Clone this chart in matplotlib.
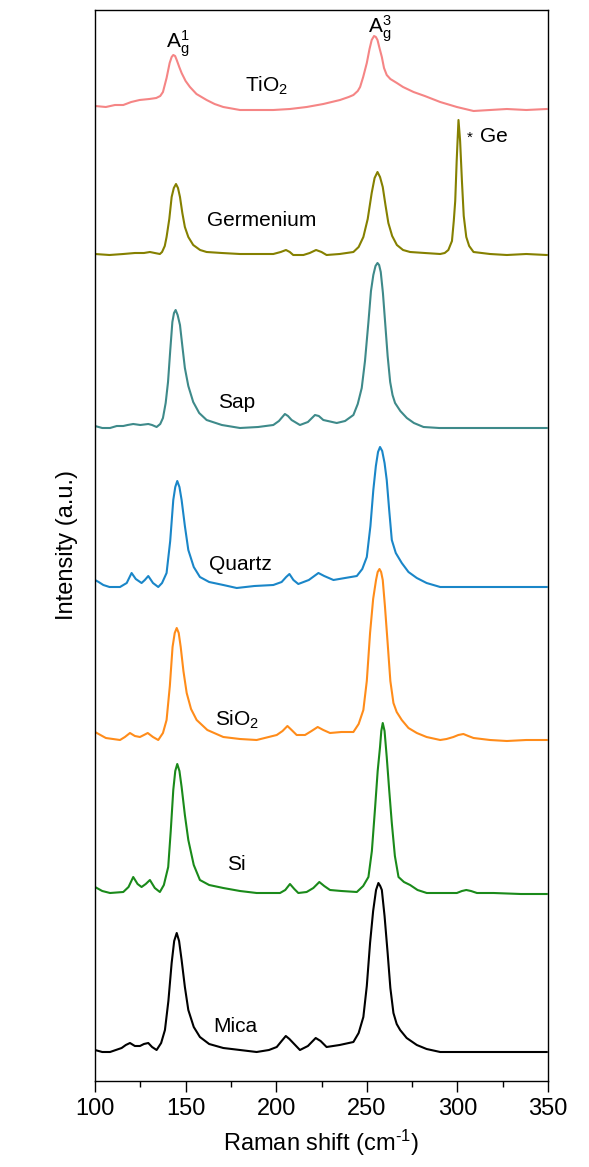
import matplotlib
matplotlib.use("Agg")
import matplotlib.pyplot as plt
from matplotlib.ticker import MultipleLocator

plt.rcParams['font.family'] = ['Liberation Sans', 'DejaVu Sans']
plt.rcParams['mathtext.fontset'] = 'custom'
plt.rcParams['mathtext.rm'] = 'Liberation Sans'
plt.rcParams['mathtext.it'] = 'Liberation Sans'
plt.rcParams['mathtext.bf'] = 'Liberation Sans:bold'

# ---- data (Raman shift in cm^-1, stacked intensity in a.u.) ----
tio2_x = [100, 106, 111, 115.6, 120, 124.6, 130, 133.8, 136, 137.5, 139.5, 141.2, 142.3, 143.2, 144.2,
          145.1, 146.5, 147.8, 150, 152.4, 156, 161.6, 166, 170.8, 180, 189.2, 198.4, 207.6, 216.8, 226,
          235.2, 240, 242.6, 245, 246.3, 248, 250, 251.5, 252.7, 254, 255, 255.9, 257, 258.3, 259.5,
          261, 263, 266.6, 270, 275.8, 282, 290.5, 299.7, 308.9, 318, 327.3, 338, 349.3]
tio2_y = [975, 974, 976, 976, 979, 981, 982, 983, 985, 989, 1003, 1018, 1024, 1026, 1025,
          1021, 1014, 1008, 1000, 994, 987, 981, 977, 974, 971, 971, 971, 972, 974, 977,
          981, 984, 986, 990, 994, 1004, 1018, 1032, 1041, 1045, 1044, 1041, 1033, 1024, 1013,
          1006, 1002, 998, 994, 989, 985, 979, 974, 970, 971, 972, 971, 972]

ge_x = [100, 108, 115.6, 122, 127, 130.3, 133, 135.8, 137, 138.5, 139.5, 141, 142.3, 143.5, 144.7,
        145.8, 146.9, 148.2, 149.6, 151.5, 154.2, 158, 161.6, 170, 180, 190, 198.4, 202.5, 205.4, 207.5,
        209.4, 215, 218.5, 222, 225, 227.8, 235, 242.6, 245.5, 248.1, 250.5, 252.7, 254.3, 255.9, 257.3,
        258.8, 260.3, 261.9, 264, 266.6, 270, 273.9, 282, 290.5, 293, 295, 297, 298, 298.8, 299.6,
        300.6, 301.5, 302.5, 303.5, 304.9, 306.5, 308.9, 318, 327.3, 338, 349.3]
ge_y = [827, 826, 827, 828, 828, 829, 828, 827, 829, 835, 844, 862, 884, 893, 897,
        893, 884, 868, 854, 844, 836, 831, 829, 828, 827, 827, 827, 829, 831, 829,
        826, 826, 828, 831, 829, 826, 827, 829, 834, 844, 862, 888, 903, 909, 904,
        894, 876, 858, 845, 836, 831, 829, 828, 827, 828, 831, 840, 860, 880, 920,
        961, 940, 900, 865, 844, 835, 829, 827, 826, 827, 826]

sap_x = [100, 104, 108.3, 112, 115.6, 118, 121.1, 125, 129.4, 131.5, 134, 136, 137.5, 139, 140.3,
         141.5, 142.7, 143.6, 144.5, 145.6, 146.9, 148.2, 149.6, 151.5, 154.2, 157.5, 161.6, 170, 180, 190,
         198.4, 201.5, 204.8, 206.5, 208.5, 213.1, 217.5, 221.4, 223.5, 226, 233.4, 238, 242.6, 245, 247.2,
         249, 250.9, 252.3, 253.6, 254.8, 255.9, 256.8, 257.7, 258.9, 260.1, 261.5, 262.9, 264.2, 265.6, 268.5,
         272.1, 276, 281.3, 290, 299.7, 315, 330, 349.3]
sap_y = [655, 653, 653, 655, 655, 656, 657, 656, 657, 656, 654, 657, 663, 678, 699,
         730, 759, 768, 771, 766, 756, 735, 713, 695, 679, 668, 661, 656, 653, 654,
         656, 660, 667, 665, 661, 656, 659, 666, 665, 661, 658, 660, 666, 677, 693,
         720, 759, 790, 806, 815, 818, 816, 809, 788, 759, 725, 699, 686, 678, 670,
         663, 658, 654, 653, 653, 653, 653, 653]

quartz_x = [100, 102, 104.6, 108, 113.8, 117.5, 120.2, 122.5, 125.7, 127.5, 129.4, 132, 134.9, 137, 139.5,
            141.5, 143.2, 144.3, 145.4, 146.6, 147.8, 149.6, 151.5, 154.5, 157.9, 163, 170.8, 178.2, 188, 198.4,
            203, 205.5, 207.3, 209.5, 212.2, 218, 223.3, 226.5, 231.6, 238, 244.5, 247.5, 250, 252, 253.6,
            255, 256.2, 257.3, 258.5, 259.8, 261, 262.4, 263.8, 266, 269.3, 273, 277.6, 283, 290.5, 310,
            330, 349.3]
quartz_y = [501, 499, 496, 494, 494, 498, 508, 502, 498, 501, 505, 498, 494, 498, 508,
            540, 581, 594, 600, 594, 581, 555, 531, 514, 504, 499, 496, 493, 495, 496,
            499, 504, 507, 501, 497, 501, 508, 505, 501, 503, 505, 512, 524, 555, 591,
            615, 629, 634, 630, 618, 601, 570, 541, 528, 518, 509, 503, 498, 494, 494,
            494, 494]

sio2_x = [100, 106, 113.8, 116.5, 119.3, 122, 124.8, 127, 129.1, 132, 134.9, 137.5, 139.5, 141.3, 142.8,
          144, 145.1, 146.2, 147.3, 148.8, 150.6, 153, 156.1, 162, 170.8, 180, 189.2, 200.3, 203.5, 206.2,
          208.5, 211.3, 215.9, 219.5, 222.9, 226, 229.7, 236, 242.6, 245.5, 248.1, 250, 251.8, 253.5, 255.1,
          256, 257, 257.9, 258.8, 260, 261.5, 263, 264.7, 266.5, 269.3, 273, 277.6, 283, 290.5, 294,
          297.8, 300.5, 303.3, 306, 308.9, 318, 327.3, 338, 349.3]
sio2_y = [349, 343, 341, 344, 348, 345, 344, 346, 348, 344, 341, 348, 361, 395, 434,
          448, 453, 448, 434, 410, 388, 372, 361, 351, 344, 342, 341, 346, 350, 355,
          351, 346, 346, 350, 354, 351, 348, 349, 349, 357, 371, 400, 448, 482, 501,
          509, 512, 509, 501, 475, 438, 400, 378, 369, 361, 353, 348, 344, 341, 342,
          344, 346, 347, 345, 343, 341, 340, 341, 341]

si_x = [100, 104, 108.3, 115.6, 118.5, 121.1, 123.5, 125.7, 128, 130.3, 133, 135.8, 138, 140.4, 141.8,
        143.2, 144.3, 145.4, 146.6, 147.8, 149.6, 151.5, 154.5, 157.9, 163, 170.8, 180, 189.2, 202.1, 205,
        207.6, 210, 212.2, 216.8, 220.5, 223.8, 226.5, 229.7, 236, 244.5, 248, 250.9, 252.8, 254.6, 256,
        257.3, 258, 258.8, 259.8, 261, 262.4, 263.8, 265.5, 267.5, 270.5, 273.9, 278, 283.1, 290, 299.7,
        302.5, 304.9, 307.5, 310.8, 320, 335, 349.3]
si_y = [194, 190, 188, 189, 194, 204, 197, 194, 197, 201, 193, 189, 196, 214, 250,
        291, 310, 317, 310, 294, 266, 241, 216, 201, 196, 193, 190, 188, 188, 191,
        197, 192, 188, 189, 193, 199, 195, 191, 190, 189, 195, 204, 230, 274, 310,
        334, 350, 358, 350, 324, 290, 258, 225, 204, 199, 196, 191, 188, 188, 188,
        190, 191, 190, 188, 188, 187, 187]

mica_x = [100, 104, 108.3, 114.7, 117, 119.3, 122, 124.8, 127, 129.4, 131.5, 134, 136.5, 138.6, 140.5,
          142.3, 143.7, 145.1, 146.4, 147.8, 149.6, 151.5, 154.5, 157.9, 163, 170.8, 180, 189.2, 196, 200.3,
          203, 205.3, 207.3, 209.4, 213.1, 217.5, 221.8, 224.5, 227.8, 235, 242.6, 245.5, 248.1, 250, 251.8,
          253.5, 255.1, 256.4, 257.4, 258.3, 259.8, 261.5, 263, 264.7, 266.5, 268.4, 272, 277.6, 283, 290.5,
          310, 330, 349.3]
mica_y = [31, 29, 29, 33, 36, 38, 35, 35, 37, 38, 34, 31, 38, 51, 80,
          118, 140, 148, 140, 121, 94, 71, 54, 44, 37, 33, 31, 29, 31, 34,
          40, 45, 42, 38, 31, 35, 43, 40, 34, 36, 39, 48, 64, 95, 138,
          170, 191, 198, 195, 191, 165, 128, 93, 68, 57, 51, 43, 36, 32, 29,
          29, 29, 29]

series = [
    ("TiO2", tio2_x, tio2_y, "#F58585"),
    ("Germenium", ge_x, ge_y, "#858000"),
    ("Sap", sap_x, sap_y, "#3E8A8A"),
    ("Quartz", quartz_x, quartz_y, "#1A86C8"),
    ("SiO2", sio2_x, sio2_y, "#FF8C1A"),
    ("Si", si_x, si_y, "#1A8A1A"),
    ("Mica", mica_x, mica_y, "#000000"),
]

labels = [
    (r"TiO$_2$", 194.7, 995),
    ("Germenium", 192, 861),
    ("Sap", 178.2, 679),
    ("Quartz", 180, 516),
    (r"SiO$_2$", 178.2, 361),
    ("Si", 178.2, 216),
    ("Mica", 177.3, 55),
]

fig = plt.figure(figsize=(5.89, 11.67), dpi=100)
ax = fig.add_axes([95/589, 1 - 1081/1167, 453/589, 1071/1167])

for name, xs, ys, c in series:
    ax.plot(xs, ys, color=c, lw=1.5)

for txt, x, y in labels:
    ax.text(x, y, txt, fontsize=15, ha='center', va='center')

ax.text(145.8, 1037, r"A$_g^1$", fontsize=15, ha='center', va='center')
ax.text(257.3, 1052, r"A$_g^3$", fontsize=15, ha='center', va='center')
ax.text(307, 943, "*", fontsize=11, ha='center', va='center')
ax.text(320, 944, "Ge", fontsize=15, ha='center', va='center')

ax.set_xlim(100, 350)
ax.set_ylim(0, 1071)
ax.xaxis.set_major_locator(MultipleLocator(50))
ax.xaxis.set_minor_locator(MultipleLocator(25))
ax.tick_params(axis='x', which='major', direction='out', length=8, width=1, labelsize=17, pad=4)
ax.tick_params(axis='x', which='minor', direction='out', length=4, width=1)
ax.set_yticks([])
for s in ax.spines.values():
    s.set_linewidth(1)
ax.set_xlabel(r"Raman shift (cm$^{\text{-}1}$)", fontsize=17, labelpad=6)
ax.set_ylabel("Intensity (a.u.)", fontsize=17, labelpad=12)

fig.savefig("out.png", dpi=100)
